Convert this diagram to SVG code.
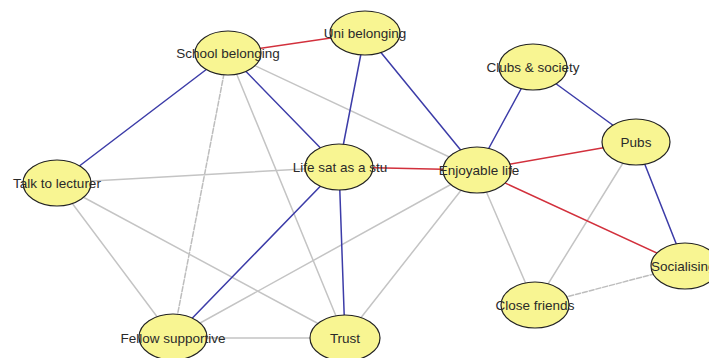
<svg xmlns="http://www.w3.org/2000/svg" width="709" height="358" viewBox="0 0 709 358">
<style>
.e{fill:none;stroke-width:1.5;stroke-linecap:round}
.g{stroke:#c4c4c4}
.gd{stroke:#bdbdbd;stroke-dasharray:5 2}
.b{stroke:#3c3ca8}
.r{stroke:#d2303c}
.n ellipse{fill:#f8f592;stroke:#222;stroke-width:1.2}
.n text{font-family:"Liberation Sans",Arial,sans-serif;font-size:13.5px;fill:#2a2a2a;text-anchor:middle}
</style>
<rect width="709" height="358" fill="#fff"/>
<g id="connectors">
<line class="e g" x1="228" y1="53" x2="477" y2="170"/>
<line class="e gd" x1="228" y1="53" x2="173" y2="338"/>
<line class="e g" x1="228" y1="53" x2="345" y2="338"/>
<line class="e g" x1="57" y1="183" x2="339" y2="167"/>
<line class="e g" x1="57" y1="183" x2="173" y2="338"/>
<line class="e g" x1="57" y1="183" x2="345" y2="338"/>
<line class="e g" x1="173" y1="338" x2="345" y2="338"/>
<line class="e g" x1="173" y1="338" x2="477" y2="170"/>
<line class="e g" x1="345" y1="338" x2="477" y2="170"/>
<line class="e g" x1="477" y1="170" x2="535" y2="305"/>
<line class="e g" x1="636" y1="142" x2="535" y2="305"/>
<line class="e gd" x1="535" y1="305" x2="685" y2="266"/>
<line class="e r" x1="228" y1="53" x2="365" y2="33"/>
<line class="e b" x1="228" y1="53" x2="57" y2="183"/>
<line class="e b" x1="228" y1="53" x2="339" y2="167"/>
<line class="e b" x1="365" y1="33" x2="339" y2="167"/>
<line class="e b" x1="365" y1="33" x2="477" y2="170"/>
<line class="e r" x1="339" y1="167" x2="477" y2="170"/>
<line class="e b" x1="339" y1="167" x2="173" y2="338"/>
<line class="e b" x1="339" y1="167" x2="345" y2="338"/>
<line class="e b" x1="477" y1="170" x2="533" y2="67"/>
<line class="e r" x1="477" y1="170" x2="636" y2="142"/>
<line class="e r" x1="477" y1="170" x2="685" y2="266"/>
<line class="e b" x1="533" y1="67" x2="636" y2="142"/>
<line class="e b" x1="636" y1="142" x2="685" y2="266"/>
</g>
<g id="school" class="n"><ellipse cx="228" cy="53" rx="33" ry="22"/><text x="228" y="58">School belonging</text></g>
<g id="uni" class="n"><ellipse cx="365" cy="33" rx="35" ry="22"/><text x="365" y="38">Uni belonging</text></g>
<g id="talk" class="n"><ellipse cx="57" cy="183" rx="34" ry="23"/><text x="57" y="188">Talk to lecturer</text></g>
<g id="lifesat" class="n"><ellipse cx="339" cy="167" rx="34" ry="23"/><text x="340" y="172">Life sat as a stu</text></g>
<g id="enjoy" class="n"><ellipse cx="477" cy="170" rx="34" ry="23"/><text x="479" y="175">Enjoyable life</text></g>
<g id="clubs" class="n"><ellipse cx="533" cy="67" rx="34" ry="23"/><text x="533" y="72">Clubs &amp; society</text></g>
<g id="pubs" class="n"><ellipse cx="636" cy="142" rx="34" ry="23"/><text x="636" y="147">Pubs</text></g>
<g id="social" class="n"><ellipse cx="685" cy="266" rx="34" ry="23"/><text x="682" y="271" style="text-anchor:start" dx="-31">Socialising</text></g>
<g id="close" class="n"><ellipse cx="535" cy="305" rx="34" ry="23"/><text x="535" y="310">Close friends</text></g>
<g id="fellow" class="n"><ellipse cx="173" cy="337" rx="34" ry="23"/><text x="173" y="343">Fellow supportive</text></g>
<g id="trust" class="n"><ellipse cx="345" cy="338" rx="35" ry="23"/><text x="345" y="343">Trust</text></g>
</svg>
